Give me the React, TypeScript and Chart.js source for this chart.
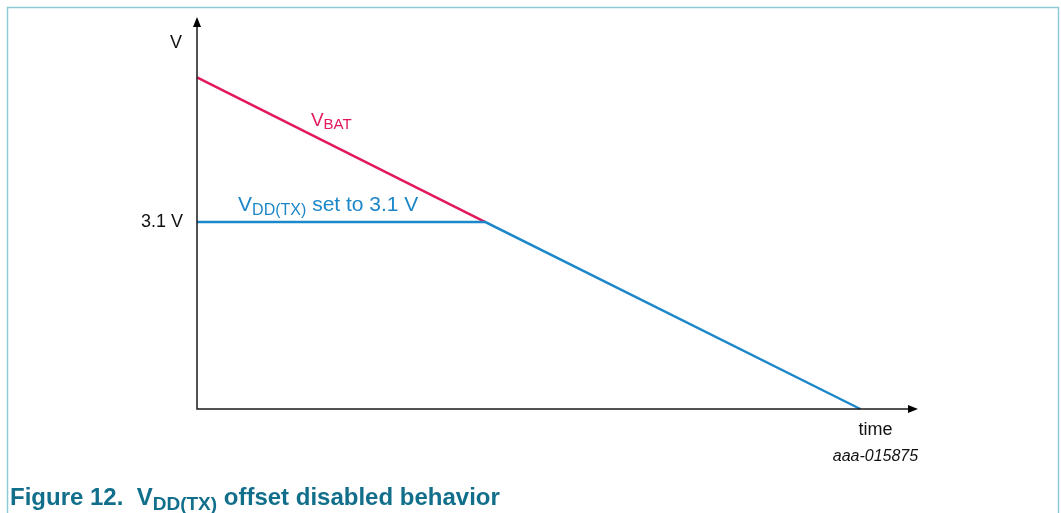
import React, { useEffect, useRef } from "react";
import { Chart, registerables } from "chart.js";

Chart.register(...registerables);

const timePoints = [0, 4, 9.2];
const vbatValues = [5.5, 3.1, 0];
const vddTimePoints = [0, 4, 9.2];
const vddValues = [3.1, 3.1, 0];
const yTickLabel = "3.1 V";
const yTickValue = 3.1;
const xAxisLabel = "time";
const yAxisLabel = "V";
const figureId = "aaa-015875";

const PINK = "#e2185b";
const BLUE = "#1c87c9";
const TEAL = "#126f8b";
const FONT = "'Liberation Sans', Arial, sans-serif";

type Part = { t: string; sub?: boolean };

function drawParts(ctx: CanvasRenderingContext2D, x: number, y: number, parts: Part[], size: number, subSize: number, color: string, weight = "normal") {
  ctx.save();
  ctx.fillStyle = color;
  ctx.textBaseline = "alphabetic";
  ctx.textAlign = "left";
  let cx = x;
  for (const p of parts) {
    ctx.font = `${weight} ${p.sub ? subSize : size}px ${FONT}`;
    ctx.fillText(p.t, cx, p.sub ? y + size * 0.2 : y);
    cx += ctx.measureText(p.t).width;
  }
  ctx.restore();
}

const decorPlugin = {
  id: "decor",
  beforeDraw(chart: any) {
    const ctx = chart.ctx as CanvasRenderingContext2D;
    const { width, height } = chart;
    ctx.save();
    ctx.fillStyle = "#ffffff";
    ctx.fillRect(0, 0, width, height);
    ctx.strokeStyle = "#8fc9d3";
    ctx.lineWidth = 1.5;
    ctx.beginPath();
    ctx.moveTo(7.5, height + 2);
    ctx.lineTo(7.5, 7.5);
    ctx.lineTo(width - 2.5, 7.5);
    ctx.lineTo(width - 2.5, height + 2);
    ctx.stroke();
    ctx.restore();
  },
  afterDatasetsDraw(chart: any) {
    const ctx = chart.ctx as CanvasRenderingContext2D;
    const xs = chart.scales.x;
    const ys = chart.scales.y;
    const x0 = xs.getPixelForValue(xs.min);
    const x1 = xs.getPixelForValue(xs.max);
    const y0 = ys.getPixelForValue(0);
    const yTop = ys.getPixelForValue(ys.max);
    ctx.save();
    ctx.strokeStyle = "#1a1a1a";
    ctx.fillStyle = "#000";
    ctx.lineWidth = 1.5;
    ctx.beginPath();
    ctx.moveTo(x0, yTop + 8);
    ctx.lineTo(x0, y0);
    ctx.lineTo(x1 - 8, y0);
    ctx.stroke();
    ctx.beginPath();
    ctx.moveTo(x0, yTop);
    ctx.lineTo(x0 - 4, yTop + 10);
    ctx.lineTo(x0 + 4, yTop + 10);
    ctx.closePath();
    ctx.fill();
    ctx.beginPath();
    ctx.moveTo(x1, y0);
    ctx.lineTo(x1 - 10, y0 - 4);
    ctx.lineTo(x1 - 10, y0 + 4);
    ctx.closePath();
    ctx.fill();

    ctx.fillStyle = "#111";
    ctx.font = `18px ${FONT}`;
    ctx.textAlign = "center";
    ctx.textBaseline = "middle";
    ctx.fillText(yAxisLabel, x0 - 21, ys.getPixelForValue(6.07));
    ctx.textAlign = "right";
    ctx.fillText(yTickLabel, x0 - 14, ys.getPixelForValue(yTickValue));
    ctx.textAlign = "center";
    ctx.fillText(xAxisLabel, xs.getPixelForValue(9.41), y0 + 21);
    ctx.font = `italic 16px ${FONT}`;
    ctx.fillText(figureId, xs.getPixelForValue(9.41), y0 + 48);
    ctx.restore();

    drawParts(ctx, xs.getPixelForValue(1.58), ys.getPixelForValue(4.7), [{ t: "V" }, { t: "BAT", sub: true }], 19, 15, PINK);
    drawParts(ctx, xs.getPixelForValue(0.57), ys.getPixelForValue(3.29), [{ t: "V" }, { t: "DD(TX)", sub: true }, { t: " set to 3.1 V" }], 21, 16, BLUE);
    drawParts(ctx, 10, 505, [{ t: "Figure 12.  V" }, { t: "DD(TX)", sub: true }, { t: " offset disabled behavior" }], 24, 19, TEAL, "bold");
  },
};

export default function App() {
  const ref = useRef<HTMLCanvasElement>(null);
  useEffect(() => {
    document.body.style.margin = "0";
    const canvas = ref.current!;
    const chart = new Chart(canvas, {
      type: "scatter",
      data: {
        datasets: [
          {
            data: vddTimePoints.map((t, i) => ({ x: t, y: vddValues[i] })),
            borderColor: BLUE,
            borderWidth: 2.5,
            showLine: true,
            pointRadius: 0,
            fill: false,
            clip: false as any,
          },
          {
            data: timePoints.slice(0, 2).map((t, i) => ({ x: t, y: vbatValues[i] })),
            borderColor: PINK,
            borderWidth: 2.5,
            showLine: true,
            pointRadius: 0,
            fill: false,
            clip: false as any,
          },
        ],
      },
      options: {
        responsive: false,
        animation: false,
        events: [],
        layout: { padding: { left: 197, right: 143, top: 17, bottom: 104 } },
        plugins: { legend: { display: false }, tooltip: { enabled: false } },
        scales: {
          x: { type: "linear", min: 0, max: 10, display: false },
          y: { type: "linear", min: 0, max: 6.5, display: false },
        },
      },
      plugins: [decorPlugin],
    });
    return () => chart.destroy();
  }, []);
  return (
    <div style={{ width: 1061, height: 513 }}>
      <canvas ref={ref} width={1061} height={513} style={{ display: "block", width: 1061, height: 513 }} />
    </div>
  );
}
